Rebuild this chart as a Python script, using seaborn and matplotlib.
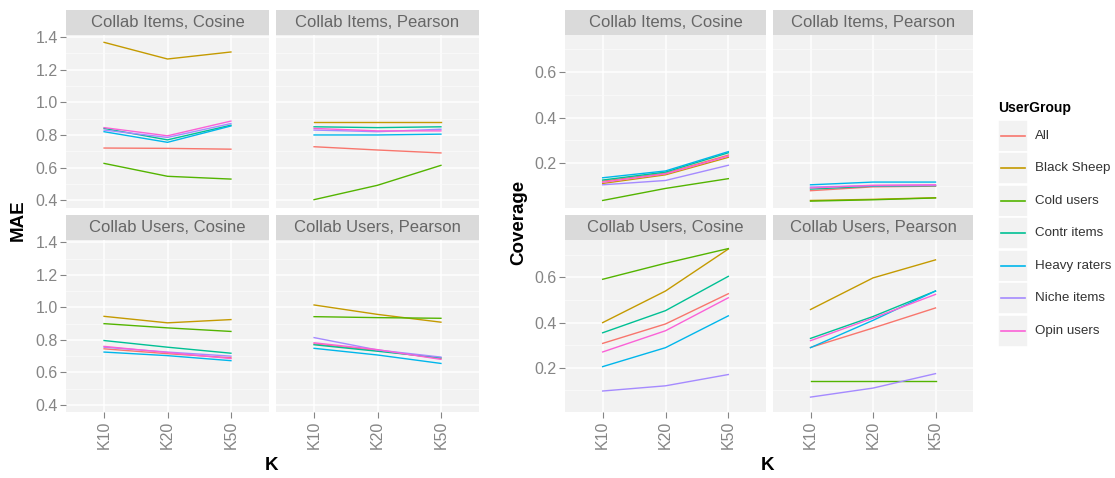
import numpy as np
import pandas as pd
import matplotlib
matplotlib.use("Agg")
import matplotlib.pyplot as plt
from matplotlib.patches import Rectangle
import seaborn as sns

# ---------------- data ----------------
groups = ["All", "Black Sheep", "Cold users", "Contr items",
          "Heavy raters", "Niche items", "Opin users"]
k_labels = ["K10", "K20", "K50"]
panel_titles = ["Collab Items, Cosine", "Collab Items, Pearson",
                "Collab Users, Cosine", "Collab Users, Pearson"]
colors = ["#F8766D", "#C49A00", "#53B400", "#00C094",
          "#00B6EB", "#A58AFF", "#FB61D7"]

mae_items_cosine = {
    "All": [0.720, 0.718, 0.713], "Black Sheep": [1.367, 1.265, 1.308],
    "Cold users": [0.626, 0.547, 0.530], "Contr items": [0.840, 0.770, 0.860],
    "Heavy raters": [0.820, 0.755, 0.855], "Niche items": [0.830, 0.785, 0.870],
    "Opin users": [0.845, 0.795, 0.885]}
mae_items_pearson = {
    "All": [0.728, 0.708, 0.690], "Black Sheep": [0.880, 0.880, 0.880],
    "Cold users": [0.404, 0.492, 0.614], "Contr items": [0.850, 0.845, 0.850],
    "Heavy raters": [0.800, 0.800, 0.805], "Niche items": [0.830, 0.820, 0.835],
    "Opin users": [0.840, 0.825, 0.825]}
mae_users_cosine = {
    "All": [0.745, 0.715, 0.690], "Black Sheep": [0.945, 0.905, 0.925],
    "Cold users": [0.900, 0.874, 0.852], "Contr items": [0.796, 0.755, 0.718],
    "Heavy raters": [0.725, 0.703, 0.672], "Niche items": [0.755, 0.725, 0.700],
    "Opin users": [0.760, 0.722, 0.685]}
mae_users_pearson = {
    "All": [0.775, 0.735, 0.685], "Black Sheep": [1.015, 0.957, 0.909],
    "Cold users": [0.943, 0.937, 0.933], "Contr items": [0.770, 0.730, 0.690],
    "Heavy raters": [0.748, 0.707, 0.655], "Niche items": [0.814, 0.738, 0.694],
    "Opin users": [0.782, 0.740, 0.680]}

cov_items_cosine = {
    "All": [0.120, 0.155, 0.235], "Black Sheep": [0.110, 0.148, 0.225],
    "Cold users": [0.035, 0.088, 0.131], "Contr items": [0.125, 0.160, 0.245],
    "Heavy raters": [0.135, 0.165, 0.250], "Niche items": [0.104, 0.123, 0.190],
    "Opin users": [0.115, 0.152, 0.230]}
cov_items_pearson = {
    "All": [0.078, 0.095, 0.098], "Black Sheep": [0.035, 0.040, 0.047],
    "Cold users": [0.032, 0.038, 0.046], "Contr items": [0.085, 0.098, 0.100],
    "Heavy raters": [0.104, 0.116, 0.116], "Niche items": [0.094, 0.100, 0.102],
    "Opin users": [0.090, 0.102, 0.104]}
cov_users_cosine = {
    "All": [0.308, 0.394, 0.528], "Black Sheep": [0.400, 0.540, 0.726],
    "Cold users": [0.592, 0.663, 0.728], "Contr items": [0.355, 0.453, 0.605],
    "Heavy raters": [0.205, 0.289, 0.430], "Niche items": [0.097, 0.120, 0.170],
    "Opin users": [0.270, 0.364, 0.510]}
cov_users_pearson = {
    "All": [0.290, 0.376, 0.465], "Black Sheep": [0.458, 0.598, 0.678],
    "Cold users": [0.140, 0.140, 0.140], "Contr items": [0.330, 0.427, 0.540],
    "Heavy raters": [0.289, 0.410, 0.540], "Niche items": [0.070, 0.110, 0.174],
    "Opin users": [0.320, 0.420, 0.525]}

mae_panels = [mae_items_cosine, mae_items_pearson, mae_users_cosine, mae_users_pearson]
cov_panels = [cov_items_cosine, cov_items_pearson, cov_users_cosine, cov_users_pearson]

# ---------------- style ----------------
plt.rcParams["font.family"] = ["Liberation Sans", "DejaVu Sans"]
palette = dict(zip(groups, colors))
PANEL_BG = "#F2F2F2"
STRIP_BG = "#DADADA"
TICK_C = "#858585"

W, H = 1115, 478
fig = plt.figure(figsize=(W / 100, H / 100), dpi=100)
fig.patch.set_facecolor("white")


def rect(x0, y0, x1, y1):
    return [x0 / W, 1 - y1 / H, (x1 - x0) / W, (y1 - y0) / H]


rows_plot = [(34.5, 207.5), (240, 412)]
rows_strip = [(10, 34.5), (215, 240)]


def long_df(d):
    recs = []
    for g in groups:
        for k, v in zip(k_labels, d[g]):
            recs.append({"K": k, "value": v, "UserGroup": g})
    return pd.DataFrame(recs)


def draw_block(cols, panels, ylim, yticks, yminor, yfmt):
    for i, d in enumerate(panels):
        r, c = divmod(i, 2)
        x0, x1 = cols[c]
        sy0, sy1 = rows_strip[r]
        py0, py1 = rows_plot[r]
        # strip
        sax = fig.add_axes(rect(x0, sy0, x1, sy1))
        sax.set_facecolor(STRIP_BG)
        sax.set_xticks([]); sax.set_yticks([])
        for s in sax.spines.values():
            s.set_visible(False)
        sax.text(0.5, 0.5, panel_titles[i], ha="center", va="center",
                 fontsize=12, color="#666666", transform=sax.transAxes)
        # panel
        ax = fig.add_axes(rect(x0, py0, x1, py1))
        ax.set_facecolor(PANEL_BG)
        sns.lineplot(data=long_df(d), x="K", y="value", hue="UserGroup",
                     hue_order=groups, palette=palette, ax=ax, legend=False,
                     lw=1.0, sort=False)
        ax.set_xlim(-0.6, 2.6)
        ax.set_ylim(*ylim)
        ax.set_xticks(range(len(k_labels)))
        ax.set_yticks(yticks)
        ax.set_yticks(yminor, minor=True)
        ax.set_axisbelow(True)
        ax.grid(which="major", color="white", lw=1.1)
        ax.grid(which="minor", axis="y", color="#FAFAFA", lw=0.6)
        for s in ax.spines.values():
            s.set_visible(False)
        ax.set_xlabel(""); ax.set_ylabel("")
        ax.tick_params(which="minor", length=0)
        ax.tick_params(which="major", length=4, width=0.8, color=TICK_C,
                       labelcolor=TICK_C, labelsize=11.5, pad=2)
        if r == 1:
            ax.set_xticklabels(k_labels, rotation=90)
        else:
            ax.set_xticklabels([])
            ax.tick_params(axis="x", bottom=False)
        if c == 0:
            ax.set_yticklabels([yfmt.format(v) for v in yticks])
        else:
            ax.set_yticklabels([])
            ax.tick_params(axis="y", left=False)


draw_block([(66, 269), (276, 479)], mae_panels, (0.356, 1.415),
           [0.4, 0.6, 0.8, 1.0, 1.2, 1.4], [0.5, 0.7, 0.9, 1.1, 1.3], "{:.1f}")
draw_block([(565, 766), (773, 973)], cov_panels, (0.004, 0.766),
           [0.2, 0.4, 0.6], [0.1, 0.3, 0.5, 0.7], "{:.1f}")

# axis titles
fig.text(18 / W, 1 - 220 / H, "MAE", rotation=90, ha="center", va="center",
         fontsize=13.5, fontweight="bold")
fig.text(519 / W, 1 - 222 / H, "Coverage", rotation=90, ha="center", va="center",
         fontsize=13.5, fontweight="bold")
fig.text(272 / W, 1 - 466 / H, "K", ha="center", va="center",
         fontsize=13.5, fontweight="bold")
fig.text(768 / W, 1 - 466 / H, "K", ha="center", va="center",
         fontsize=13.5, fontweight="bold")

# legend
lax = fig.add_axes(rect(985, 90, 1115, 360))
lax.set_xlim(985, 1115)
lax.set_ylim(360, 90)
lax.axis("off")
lax.text(998, 108, "UserGroup", ha="left", va="center", fontsize=10,
         fontweight="bold")
for i, g in enumerate(groups):
    yc = 136 + 32.5 * i
    lax.add_patch(Rectangle((998, yc - 16), 30, 32, facecolor=PANEL_BG,
                            edgecolor="white", lw=1.2))
    lax.plot([1001, 1025], [yc, yc], color=palette[g], lw=1.2)
    lax.text(1035, yc, g, ha="left", va="center", fontsize=9.6, color="#333333")

fig.savefig("out.png", dpi=100)
